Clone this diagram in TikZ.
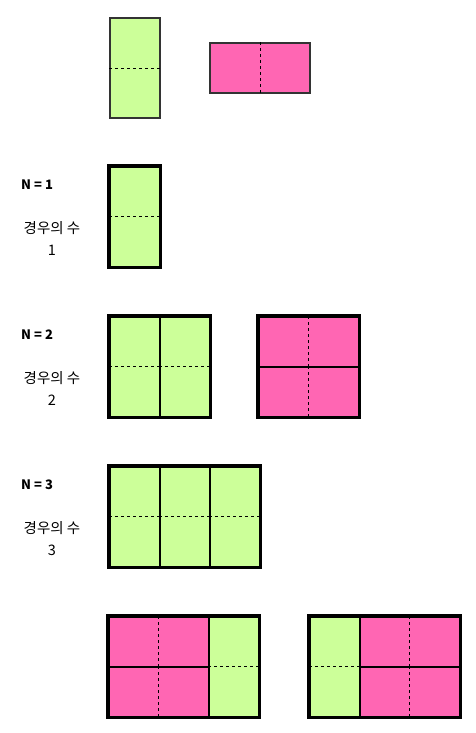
\documentclass[tikz,border=0pt]{standalone}
\usepackage{fontspec}
\setmainfont{Noto Sans CJK KR}
\usetikzlibrary{positioning}
\definecolor{tileGreen}{HTML}{CCFF99}
\definecolor{tilePink}{HTML}{FF66B3}
\tikzset{
 vtile/.style={
 rectangle,
 draw=black, line width=1.5pt,
 fill=tileGreen,
 minimum width=50pt,
 minimum height=100pt,
 inner sep=0pt,
 anchor=north west},
 htile/.style={
 rectangle,
 draw=black, line width=1.5pt,
 fill=tilePink,
 minimum width=100pt,
 minimum height=50pt,
 inner sep=0pt,
 anchor=north west},
 loose/.style={draw=black!80, line width=2pt},
 seam/.style={line width=0.8pt, dash pattern=on 3pt off 3pt},
 frame/.style={draw=black, line width=3.5pt},
 ntext/.style={font=\fontsize{13}{15}\selectfont\bfseries, anchor=west, inner sep=0pt},
 casetext/.style={font=\fontsize{14.5}{22}\selectfont, align=center, inner sep=0pt}
}
\newcommand{\vseam}[1]{\draw[seam] (#1.west) -- (#1.east);}
\newcommand{\hseam}[1]{\draw[seam] (#1.north) -- (#1.south);}

\begin{document}
\begin{tikzpicture}[x=1pt,y=-1pt]
 \useasboundingbox (0,0) rectangle (476,733);

 % 타일 두 가지
 \node[vtile, loose] (vtop) at (109,17) {};
 \node[htile, loose] (htop) at (209,42) {};
 \vseam{vtop}
 \hseam{htop}

 % N = 1
 \node[ntext] (n1) at (21,185) {N = 1};
 \node[casetext] (c1) at (52,239) {경우의 수\\1};
 \node[vtile] (v1) at (109,166) {};
 \vseam{v1}
 \draw[frame] (v1.north west) rectangle (v1.south east);

 % N = 2
 \node[ntext] (n2) at (21,335) {N = 2};
 \node[casetext] (c2) at (52,389) {경우의 수\\2};
 \node[vtile] (v2a) at (109,316) {};
 \node[vtile] (v2b) at (159,316) {};
 \vseam{v2a}
 \vseam{v2b}
 \draw[frame] (v2a.north west) rectangle (v2b.south east);

 \node[htile] (h2a) at (258,316) {};
 \node[htile] (h2b) at (258,366) {};
 \hseam{h2a}
 \hseam{h2b}
 \draw[frame] (h2a.north west) rectangle (h2b.south east);

 % N = 3
 \node[ntext] (n3) at (21,485) {N = 3};
 \node[casetext] (c3) at (52,539) {경우의 수\\3};
 \node[vtile] (v3a) at (109,466) {};
 \node[vtile] (v3b) at (159,466) {};
 \node[vtile] (v3c) at (209,466) {};
 \vseam{v3a}
 \vseam{v3b}
 \vseam{v3c}
 \draw[frame] (v3a.north west) rectangle (v3c.south east);

 \node[htile] (h4a) at (108,616) {};
 \node[htile] (h4b) at (108,666) {};
 \node[vtile] (v4a) at (208,616) {};
 \hseam{h4a}
 \hseam{h4b}
 \vseam{v4a}
 \draw[frame] (h4a.north west) rectangle (v4a.south east);

 \node[vtile] (v4b) at (309,616) {};
 \node[htile] (h4c) at (359,616) {};
 \node[htile] (h4d) at (359,666) {};
 \vseam{v4b}
 \hseam{h4c}
 \hseam{h4d}
 \draw[frame] (v4b.north west) rectangle (h4d.south east);
\end{tikzpicture}
\end{document}
